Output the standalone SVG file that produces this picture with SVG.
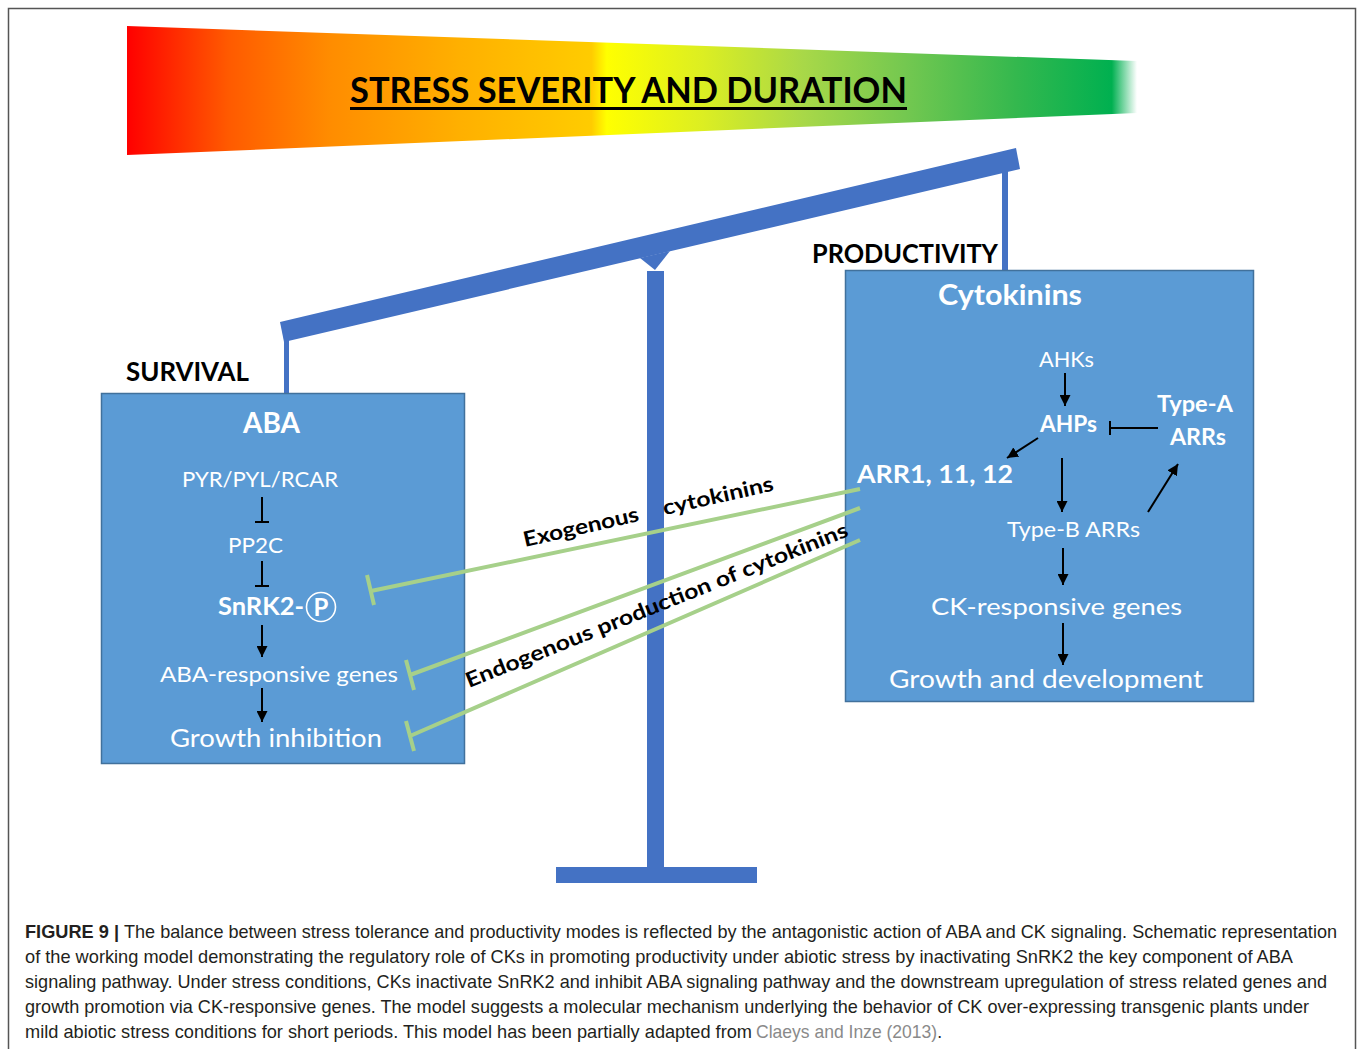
<svg xmlns="http://www.w3.org/2000/svg" width="1360" height="1049" viewBox="0 0 1360 1049">
<defs>
<linearGradient id="sev" gradientUnits="userSpaceOnUse" x1="127" y1="0" x2="1137" y2="0">
<stop offset="0" stop-color="#ff0000"/>
<stop offset="0.1" stop-color="#ff5a00"/>
<stop offset="0.2" stop-color="#ff8c00"/>
<stop offset="0.33" stop-color="#ffb000"/>
<stop offset="0.46" stop-color="#ffcc00"/>
<stop offset="0.475" stop-color="#ffff00"/>
<stop offset="0.57" stop-color="#dcee22"/>
<stop offset="0.67" stop-color="#a8d848"/>
<stop offset="0.77" stop-color="#74c850"/>
<stop offset="0.88" stop-color="#34b84e"/>
<stop offset="0.975" stop-color="#00b050"/>
<stop offset="1" stop-color="#ffffff"/>
</linearGradient>
<marker id="ah" markerUnits="userSpaceOnUse" markerWidth="11" markerHeight="11" refX="10" refY="5" orient="auto" viewBox="0 0 10 10">
<path d="M0,0 L10,5 L0,10 z" fill="#000"/>
</marker>
</defs>
<style>
.beam{fill:#4472c4}
.box{fill:#5b9bd5;stroke:#41719c;stroke-width:1.5}
.wt{font-family:Lato,"Open Sans","Liberation Sans",sans-serif;fill:#fff}
.bk{font-family:Lato,"Open Sans","Liberation Sans",sans-serif;fill:#000;font-weight:bold}
.b{font-weight:bold}
.ar{stroke:#000;stroke-width:2;fill:none;marker-end:url(#ah)}
.inh{stroke:#000;stroke-width:2;fill:none}
.gr{stroke:#a6d08a;stroke-width:4;fill:none}
.cap{font-family:"Liberation Sans Narrow","Liberation Sans",Arial,sans-serif;font-size:18.5px;fill:#231f20}
.ref{fill:#8a8a8a}
</style>
<rect width="1360" height="1049" fill="#fff"/>
<path d="M8.5,1049 V8.5 H1355.5 V1049" fill="none" stroke="#555" stroke-width="1.5"/>

<g id="severity-banner">
<polygon points="127,26 1137,61 1137,113 127,155" fill="url(#sev)"/>
<text class="bk" x="350" y="103" font-size="37" textLength="557" lengthAdjust="spacingAndGlyphs">STRESS SEVERITY AND DURATION</text>
<rect x="350" y="107" width="557" height="3" fill="#000"/>
</g>

<g id="balance">
<polygon class="beam" points="280,322 1016,148 1020,169 284,342"/>
<polygon class="beam" points="640,258 670,251 655,270"/>
<rect class="beam" x="647" y="271" width="17" height="598"/>
<rect class="beam" x="556" y="867" width="201" height="16"/>
<rect class="beam" x="284" y="330" width="5" height="64"/>
<rect class="beam" x="1002" y="160" width="6" height="111"/>
</g>

<g id="label-survival"><text class="bk" x="126" y="381" font-size="26" textLength="123" lengthAdjust="spacingAndGlyphs">SURVIVAL</text></g>
<g id="label-productivity"><text class="bk" x="812" y="263" font-size="26" textLength="186" lengthAdjust="spacingAndGlyphs">PRODUCTIVITY</text></g>

<g id="aba-box">
<rect class="box" x="101.5" y="393.5" width="363" height="370"/>
<text class="wt b" x="243" y="433" font-size="29" textLength="57" lengthAdjust="spacingAndGlyphs">ABA</text>
<text class="wt" x="182" y="487" font-size="21" textLength="156" lengthAdjust="spacingAndGlyphs">PYR/PYL/RCAR</text>
<text class="wt" x="228" y="553" font-size="21" textLength="55" lengthAdjust="spacingAndGlyphs">PP2C</text>
<text class="wt b" x="218" y="615" font-size="25" textLength="86" lengthAdjust="spacingAndGlyphs">SnRK2-</text>
<circle cx="321" cy="607" r="14.5" fill="none" stroke="#fff" stroke-width="1.6"/>
<text class="wt b" x="321" y="616" font-size="24" text-anchor="middle">P</text>
<text class="wt" x="160" y="682" font-size="21" textLength="238" lengthAdjust="spacingAndGlyphs">ABA-responsive genes</text>
<text class="wt" x="170" y="747" font-size="25" textLength="212" lengthAdjust="spacingAndGlyphs">Growth inhibition</text>
</g>

<g id="ck-box">
<rect class="box" x="845.5" y="270.5" width="408" height="431"/>
<text class="wt b" x="938" y="305" font-size="29" textLength="144" lengthAdjust="spacingAndGlyphs">Cytokinins</text>
<text class="wt" x="1039" y="367" font-size="21" textLength="55" lengthAdjust="spacingAndGlyphs">AHKs</text>
<text class="wt b" x="1040" y="432" font-size="22" textLength="57" lengthAdjust="spacingAndGlyphs">AHPs</text>
<text class="wt b" x="1157" y="412" font-size="22" textLength="76" lengthAdjust="spacingAndGlyphs">Type-A</text>
<text class="wt b" x="1170" y="445" font-size="22" textLength="56" lengthAdjust="spacingAndGlyphs">ARRs</text>
<text class="wt b" x="857" y="483" font-size="25" textLength="156" lengthAdjust="spacingAndGlyphs">ARR1, 11, 12</text>
<text class="wt" x="1007" y="537" font-size="21" textLength="133" lengthAdjust="spacingAndGlyphs">Type-B ARRs</text>
<text class="wt" x="931" y="615" font-size="24" textLength="251" lengthAdjust="spacingAndGlyphs">CK-responsive genes</text>
<text class="wt" x="889" y="688" font-size="25" textLength="314" lengthAdjust="spacingAndGlyphs">Growth and development</text>
</g>

<g id="connectors">
<path class="inh" d="M262,497 V522 M255,522 H269"/>
<path class="inh" d="M262,561 V586 M255,586 H269"/>
<path class="ar" d="M262,625 V657"/>
<path class="ar" d="M262,688 V722"/>
<path class="ar" d="M1065,373 V406"/>
<path class="inh" d="M1158,428 H1110 M1110,421 V435"/>
<path class="ar" d="M1038,438 L1007,458"/>
<path class="ar" d="M1062,458 V512"/>
<path class="ar" d="M1148,512 L1178,464"/>
<path class="ar" d="M1063,548 V585"/>
<path class="ar" d="M1063,623 V665"/>
<path class="gr" d="M860,489 L371,591 M367,575 L374,605"/>
<path class="gr" d="M860,508 L410,675 M406,660 L414,690"/>
<path class="gr" d="M860,540 L410,736 M406,721 L414,751"/>
</g>

<g id="cytokinin-labels">
<g transform="translate(525,547) rotate(-12.8)">
<text class="bk" x="0" y="0" font-size="21" textLength="118" lengthAdjust="spacingAndGlyphs">Exogenous</text>
<text class="bk" x="143" y="0" font-size="21" textLength="113" lengthAdjust="spacingAndGlyphs">cytokinins</text>
</g>
<text class="bk" transform="translate(469,688) rotate(-21.8)" x="0" y="0" font-size="21" textLength="410" lengthAdjust="spacingAndGlyphs">Endogenous production of cytokinins</text>
</g>

<g id="caption">
<text class="cap" x="25" y="938" font-weight="bold" textLength="94" lengthAdjust="spacingAndGlyphs">FIGURE 9 |</text>
<text class="cap" x="124" y="938" font-size="17.5" textLength="1213" lengthAdjust="spacingAndGlyphs">The balance between stress tolerance and productivity modes is reflected by the antagonistic action of ABA and CK signaling. Schematic representation</text>
<text class="cap" x="25" y="963" textLength="1268" lengthAdjust="spacingAndGlyphs">of the working model demonstrating the regulatory role of CKs in promoting productivity under abiotic stress by inactivating SnRK2 the key component of ABA</text>
<text class="cap" x="25" y="988" textLength="1302" lengthAdjust="spacingAndGlyphs">signaling pathway. Under stress conditions, CKs inactivate SnRK2 and inhibit ABA signaling pathway and the downstream upregulation of stress related genes and</text>
<text class="cap" x="25" y="1013" textLength="1284" lengthAdjust="spacingAndGlyphs">growth promotion via CK-responsive genes. The model suggests a molecular mechanism underlying the behavior of CK over-expressing transgenic plants under</text>
<text class="cap" x="25" y="1038" textLength="727" lengthAdjust="spacingAndGlyphs">mild abiotic stress conditions for short periods. This model has been partially adapted from</text>
<text class="cap ref" x="756" y="1038" font-size="17.5" textLength="186" lengthAdjust="spacingAndGlyphs">Claeys and Inze (2013)<tspan fill="#231f20">.</tspan></text>
</g>
</svg>
